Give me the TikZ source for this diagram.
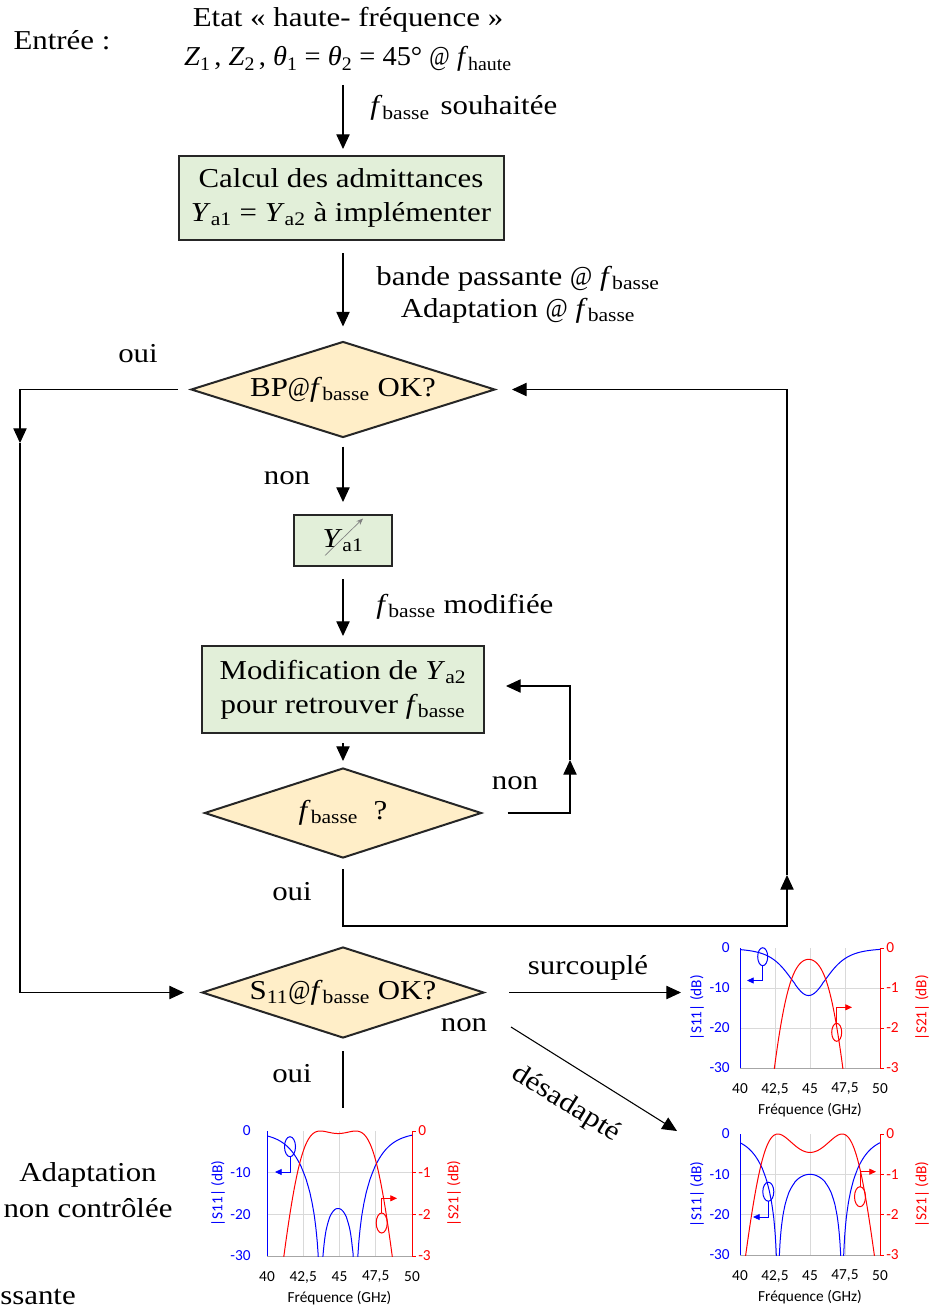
\documentclass[tikz,border=0pt]{standalone}
\usepackage{fontspec}
\usepackage{graphicx}
\setmainfont{Liberation Serif}[FakeStretch=1.13]
\newfontfamily\chartfont{Carlito}
\usetikzlibrary{arrows.meta,shapes.geometric}
\definecolor{boxgreen}{RGB}{226,239,217}
\definecolor{diayellow}{RGB}{255,238,200}
\definecolor{s11col}{RGB}{0,0,255}
\definecolor{s21col}{RGB}{255,0,0}
\definecolor{gridgray}{RGB}{217,217,217}
\definecolor{axisgray}{RGB}{166,166,166}
\newcommand\fsub[1]{\textit{f}\textsubscript{#1}}
\newcommand\atsign{\scalebox{0.78}[1]{@}}
\newcommand\chartframe[7]{%
\begin{scope}[shift={(#2,#3)}]
 \draw[gridline] ({#4/4},0) -- ({#4/4},#5) ({#4/2},0) -- ({#4/2},#5) ({3*#4/4},0) -- ({3*#4/4},#5)
   (0,{#5/3}) -- (#4,{#5/3}) (0,{2*#5/3}) -- (#4,{2*#5/3});
 \draw[axisline] (0,#5) -- (#4,#5);
 \draw[s11line] (0,0) -- (0,#5);
 \draw[s21line] (#4,0) -- (#4,#5);
 \foreach \i/\a/\b in {0/0/0,1/-10/-1,2/-20/-2,3/-30/-3}{
   \draw[s21line] (#4,{\i*#5/3}) -- ({#4+4},{\i*#5/3});
   \node[tick, text=s11col, anchor=east] (#1-l\i) at (-#6,{\i*#5/3}) {\a};
   \node[tick, text=s21col, anchor=west] (#1-r\i) at ({#4+6},{\i*#5/3}) {\b};
 }
 \foreach \i/\a in {0/40,1/{42,5},2/45,3/{47,5},4/50}
   \node[tick] (#1-x\i) at ({\i*#4/4},{#5+21}) {\a};
 \node[tick] (#1-xt) at ({#4/2},{#5+42}) {Fréquence (GHz)};
 \node[tick, text=s11col, rotate=90] (#1-yl) at (-#7,{#5/2}) {|S11| (dB)};
 \node[tick, text=s21col, rotate=90] (#1-yr) at ({#4+42},{#5/2}) {|S21| (dB)};
\end{scope}}
\begin{document}
\begin{tikzpicture}[x=0.75pt,y=-0.75pt,
  txt/.style={font=\fontsize{20.5}{25.5}\selectfont, inner sep=0pt},
  procbox/.style={draw=black!85, line width=1.5pt, fill=boxgreen, inner sep=0pt, align=center, font=\fontsize{20.5}{25.5}\selectfont},
  decbox/.style={diamond, draw=black!85, line width=1.5pt, fill=diayellow, inner sep=0pt, font=\fontsize{20.5}{25.5}\selectfont},
  arr/.style={line width=0.8pt, -{Triangle[length=11pt,width=10pt]}},
  link/.style={line width=0.8pt},
  gridline/.style={draw=gridgray, line width=0.75pt},
  axisline/.style={draw=axisgray, line width=0.75pt},
  s11line/.style={draw=s11col, line width=0.75pt},
  s21line/.style={draw=s21col, line width=0.75pt},
  tick/.style={font=\chartfont\fontsize{11.5}{13}\selectfont, inner sep=0pt},
  anno/.style={line width=0.6pt, -{Triangle[length=5pt,width=4.5pt]}},
  declare function={
    dA(\f)=(\f-44.9)/1.45; qA(\f)=1+dA(\f)*dA(\f); rA(\f)=0.0675*qA(\f)*qA(\f);
    dB(\f)=(\f-45)/3.25; tB(\f)=2*dB(\f)*dB(\f)-1; rB(\f)=0.111*tB(\f)*tB(\f);
    dC(\f)=(\f-44.9)/1.72; tC(\f)=2*dC(\f)*dC(\f)-1; rC(\f)=0.014*tC(\f)*tC(\f);
    sref(\r)=4.3429*ln((\r+0.0001)/(1+\r));
    strans(\r)=-4.3429*ln(1+\r);
  }]
\path[use as bounding box] (0,0) rectangle (931,1309);

% --- top texts
\node[txt, anchor=base] (entree) at (62,50) {Entrée :};
\node[txt, anchor=base] (etat) at (348,27) {Etat « haute- fréquence »};
\node[txt, anchor=base] (zin) at (348,66) {\scalebox{0.92}[1]{\textit{Z}\textsubscript{1}\hspace{3pt}, \textit{Z}\textsubscript{2}\hspace{3pt}, \textit{θ}\textsubscript{1} = \textit{θ}\textsubscript{2} = 45° \atsign{} \fsub{haute}}};

% --- nodes
\node[procbox, minimum width=243.75pt, minimum height=63pt] (box1) at (341,198) {Calcul des admittances\\\textit{Y}\textsubscript{a1} = \textit{Y}\textsubscript{a2} à implémenter};
\node[decbox, aspect=3.17, minimum width=228pt, minimum height=72pt] (d1) at (343,389.5) {BP\atsign\fsub{basse} OK?};
\node[procbox, minimum width=73.5pt, minimum height=38.25pt] (ya1) at (343,540.5) {\textit{Y}\textsubscript{a1}};
\draw[gray, line width=0.5pt, -{Stealth[length=5pt,width=4pt]}] ([shift={(-18,15)}]ya1.center) -- ([shift={(20,-22)}]ya1.center);
\node[procbox, minimum width=211.5pt, minimum height=65.25pt] (box3) at (343,689.5) {Modification de \textit{Y}\textsubscript{a2}\\pour retrouver \fsub{basse}};
\node[decbox, aspect=3.08, minimum width=207.75pt, minimum height=67.5pt] (d2) at (343,813) {\fsub{basse}\ \ ?};
\node[decbox, aspect=3.1, minimum width=211.5pt, minimum height=68.25pt] (d3) at (343,992.5) {S\textsubscript{11}\atsign\fsub{basse} OK?};

% --- coordinates
\coordinate (c1s) at (343,85);
\coordinate (c2s) at (343,253);
\coordinate (n2a) at (570,813);
\coordinate (n2b) at (570,760);
\coordinate (n2c) at (570,686);
\coordinate (o2a) at (343,926);
\coordinate (o2b) at (787,926);
\coordinate (o2c) at (787,875);
\coordinate (o1a) at (20,389.5);
\coordinate (o1b) at (20,443);
\coordinate (o1c) at (20,992.5);
\coordinate (chA) at (681,992.5);
\coordinate (de1) at (511,1027);
\coordinate (de2) at (677,1131);
\coordinate (o3) at (343,1108);

% --- connectors
\draw[arr, shorten >=4.5pt] (c1s) -- (c1s |- box1.north);
\draw[arr, shorten >=10.5pt] (c2s) -- (c2s |- d1.north);
\draw[arr, shorten <=6pt, shorten >=9pt] (d1.south) -- (ya1.north);
\draw[arr, shorten <=9pt, shorten >=6.75pt] (ya1.south) -- (box3.north);
\draw[arr, shorten <=6.75pt, shorten >=4.5pt] (box3.south) -- (d2.north);
\draw[arr, shorten <=18.75pt] (d2.east) -- (n2a) -- (n2b);
\draw[arr, shorten >=15.75pt] (n2b) -- (n2c) -- (n2c -| box3.east);
\draw[arr, shorten <=7.5pt] (d2.south) -- (o2a) -- (o2b) -- (o2c);
\draw[arr, shorten >=12pt] (o2c) -- (o2c |- d1.east) -- (d1.east);
\draw[arr, shorten <=9pt] (d1.west) -- (o1a) -- (o1b);
\draw[arr, shorten >=12.75pt] (o1b) -- (o1c) -- (d3.west);
\draw[arr, shorten <=18pt] (d3.east) -- (chA);
\draw[arr] (de1) -- (de2);
\draw[link, shorten <=9pt] (d3.south) -- (o3);

% --- labels
\node[txt, anchor=base west] (l1) at (370,115) {\fsub{basse}\hspace{8pt}souhaitée};
\node[txt, anchor=base] (l2a) at (518,285) {bande passante \atsign{} \fsub{basse}};
\node[txt, anchor=base] (l2b) at (518,317) {Adaptation \atsign{} \fsub{basse}};
\node[txt, anchor=base] (oui1) at (138,362) {oui};
\node[txt, anchor=base] (non1) at (287,484) {non};
\node[txt, anchor=base west] (l3) at (376,613) {\fsub{basse} modifiée};
\node[txt, anchor=base] (non2) at (515,789) {non};
\node[txt, anchor=base] (oui2) at (292,900) {oui};
\node[txt, anchor=base] (surc) at (588,974) {surcouplé};
\node[txt, anchor=base] (non3) at (464,1031) {non};
\node[txt, rotate=-32] (desa) at (566,1104) {désadapté};
\node[txt, anchor=base] (oui3) at (292,1082) {oui};
\node[txt, anchor=base] (adap1) at (88,1181) {Adaptation};
\node[txt, anchor=base] (adap2) at (88,1217) {non contrôlée};
\node[txt, anchor=base west] (bp) at (0,1304) {ssante};

% --- chart A (surcouple)
\chartframe{cA}{740}{948}{140}{120}{10}{43}
\begin{scope}
 \clip (740,944) rectangle (880,1068);
 \draw[s11line] plot[domain=40:50, samples=150, variable=\f] ({740+14*(\f-40)}, {948-4*sref(rA(\f))});
 \draw[s21line] plot[domain=40:50, samples=150, variable=\f] ({740+14*(\f-40)}, {948-40*strans(rA(\f))});
\end{scope}
\draw[s11line] (762.7,956.7) ellipse [x radius=5, y radius=9];
\draw[s11line, anno] (762.7,965.7) -- (762.7,980.5) -- (747,980.5);
\draw[s21line] (836.7,1032.3) ellipse [x radius=5, y radius=9];
\draw[s21line, anno] (836.7,1023.3) -- (836.7,1007.3) -- (852,1007.3);

% --- chart B (desadapte)
\chartframe{cB}{740}{1134}{140}{121}{10}{43}
\begin{scope}
 \clip (740,1130) rectangle (880,1255);
 \draw[s11line] plot[domain=40:50, samples=200, variable=\f] ({740+14*(\f-40)}, {1134-4.0333*sref(rB(\f))});
 \draw[s21line] plot[domain=40:50, samples=150, variable=\f] ({740+14*(\f-40)}, {1134-40.333*strans(rB(\f))});
\end{scope}
\draw[s11line] (768.3,1191.7) ellipse [x radius=5.5, y radius=9.5];
\draw[s11line, anno] (768.3,1201.2) -- (768.3,1217) -- (753,1217);
\draw[s21line] (860,1196.7) ellipse [x radius=5.5, y radius=10];
\draw[s21line, anno] (860,1186.7) -- (860,1171.7) -- (876,1171.7);

% --- chart C (oui)
\chartframe{cC}{267}{1131}{145}{125}{16}{49}
\begin{scope}
 \clip (267,1127) rectangle (412,1256);
 \draw[s11line] plot[domain=40:50, samples=200, variable=\f] ({267+14.5*(\f-40)}, {1131-4.1667*sref(rC(\f))});
 \draw[s21line] plot[domain=40:50, samples=150, variable=\f] ({267+14.5*(\f-40)}, {1131-41.667*strans(rC(\f))});
\end{scope}
\draw[s11line] (290,1146.7) ellipse [x radius=5.5, y radius=10];
\draw[s11line, anno] (290,1156.7) -- (290,1172) -- (275,1172);
\draw[s21line] (381.7,1223) ellipse [x radius=5.5, y radius=10];
\draw[s21line, anno] (381.7,1213) -- (381.7,1198.3) -- (397,1198.3);
\end{tikzpicture}
\end{document}
